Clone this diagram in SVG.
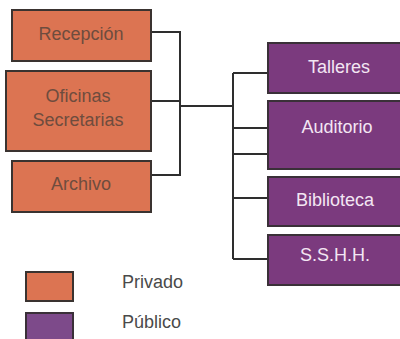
<svg xmlns="http://www.w3.org/2000/svg" width="400" height="339" viewBox="0 0 400 339">
<style>
.priv{fill:#dc7452;stroke:#3a3330;stroke-width:2}
.pub{fill:#7b3a7e;stroke:#3a3038;stroke-width:2}
.tp{font-family:"Liberation Sans",Arial,sans-serif;font-size:18px;fill:#6e4c3e;text-anchor:middle}
.tu{font-family:"Liberation Sans",Arial,sans-serif;font-size:18px;fill:#f3e6f3;text-anchor:middle}
.tl{font-family:"Liberation Sans",Arial,sans-serif;font-size:18px;fill:#4a4a4a}
.c{fill:none;stroke:#2e2e2e;stroke-width:2}
</style>
<rect width="400" height="339" fill="#ffffff"/>
<g id="connectors">
<path class="c" d="M151 32H180V175H151M151 101H180M180 106H233M233 73V259M233 73H268M233 128H268M233 154H268M233 198H268M233 259H268"/>
</g>
<g id="recepcion"><rect class="priv" x="12" y="10" width="139" height="51"/><text class="tp" x="81" y="40">Recepción</text></g>
<g id="oficinas"><rect class="priv" x="6" y="71" width="145" height="80"/><text class="tp" x="78" y="102">Oficinas</text><text class="tp" x="78" y="126">Secretarias</text></g>
<g id="archivo"><rect class="priv" x="12" y="161" width="139" height="51"/><text class="tp" x="81" y="190">Archivo</text></g>
<g id="talleres"><rect class="pub" x="268" y="43" width="134" height="50"/><text class="tu" x="339" y="73">Talleres</text></g>
<g id="auditorio"><rect class="pub" x="268" y="101" width="134" height="68"/><text class="tu" x="337" y="133">Auditorio</text></g>
<g id="biblioteca"><rect class="pub" x="268" y="177" width="134" height="49"/><text class="tu" x="335" y="206">Biblioteca</text></g>
<g id="sshh"><rect class="pub" x="268" y="235" width="134" height="50"/><text class="tu" x="335" y="261">S.S.H.H.</text></g>
<g id="legend-privado"><rect class="priv" x="26" y="272" width="47" height="29"/><text class="tl" x="122" y="288">Privado</text></g>
<g id="legend-publico"><rect class="pub" x="26" y="313" width="47" height="30" style="fill:#7d4a8a"/><text class="tl" x="122" y="328">Público</text></g>
</svg>
